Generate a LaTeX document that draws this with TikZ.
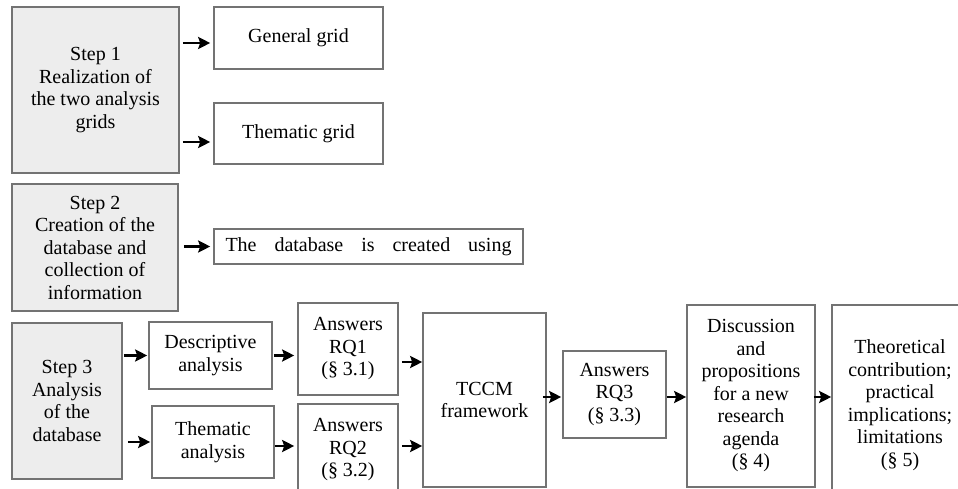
\documentclass[tikz,border=0pt]{standalone}
\usepackage{fontspec}
\setmainfont{Liberation Serif}
\usetikzlibrary{arrows.meta}

\begin{document}
\begin{tikzpicture}[x=1pt, y=-1pt,
	box/.style={draw=black!55, line width=1.6pt, fill=white, inner sep=0pt, align=center,
		font=\fontsize{20}{22.5}\selectfont},
	stepbox/.style={box, fill=black!7},
	arr/.style={line width=2.6pt, -{Stealth[length=12pt, width=12pt, inset=2pt]}}]
			\useasboundingbox (0, 0) rectangle (958, 489);
			\clip (0, 0) rectangle (958, 489);

			\node [stepbox, minimum width=167, minimum height=166] (step1) at (95.5, 90)
			{Step 1\\Realization of\\the two analysis\\grids};
			\node [box, minimum width=169, minimum height=62] (general) at (298.5, 38) {General grid};
			\node [box, minimum width=169, minimum height=61] (thematicgrid) at (298.5, 133.5) {Thematic grid};

			\draw [arr, shorten <=3pt, shorten >=3pt] ([yshift=-5pt]general.west -| step1.east) -- ([yshift=-5pt]general.west);
			\draw [arr, shorten <=3pt, shorten >=3pt] ([yshift=-8.5pt]thematicgrid.west -| step1.east) -- ([yshift=-8.5pt]thematicgrid.west);

			\node [stepbox, minimum width=166, minimum height=127] (step2) at (95, 247.5)
			{Step 2\\Creation of the\\database and\\collection of\\information};
			\node [box, minimum width=309, minimum height=35, text width=286, align=left] (database) at (368.5, 246.5)
			{The\hfill database\hfill is\hfill created\hfill using};

			\draw [arr, shorten <=5pt, shorten >=3pt] (database.west -| step2.east) -- (database.west);

			\node [stepbox, minimum width=110, minimum height=156] (step3) at (67, 401)
			{Step 3\\Analysis\\of the\\database};
			\node [box, minimum width=123, minimum height=67] (descriptive) at (210.5, 355.5)
			{Descriptive\\analysis};
			\node [box, minimum width=122, minimum height=72] (thematic) at (213, 442)
			{Thematic\\analysis};

			\draw [arr, shorten <=1pt, shorten >=1pt] (descriptive.west -| step3.east) -- (descriptive.west);
			\draw [arr, shorten <=5pt, shorten >=1pt] (thematic.west -| step3.east) -- (thematic.west);

			\node [box, minimum width=100, minimum height=92] (rq1) at (348, 349)
			{Answers\\RQ1\\(\S~3.1)};
			\node [box, minimum width=100, minimum height=92] (rq2) at (348, 450)
			{Answers\\RQ2\\(\S~3.2)};

			\draw [arr, shorten <=1pt, shorten >=3pt] (descriptive.east) -- (descriptive.east -| rq1.west);
			\draw [arr, shorten <=0pt, shorten >=3pt] ([yshift=4pt]rq2.west -| thematic.east) -- ([yshift=4pt]rq2.west);

			\node [box, minimum width=123, minimum height=174] (tccm) at (484.5, 400)
			{TCCM\\framework};

			\draw [arr, shorten <=3pt, shorten >=0pt] ([yshift=-13pt]rq1.east) -- ([yshift=-13pt]rq1.east -| tccm.west);
			\draw [arr, shorten <=3pt, shorten >=0pt] ([yshift=4pt]rq2.east) -- ([yshift=4pt]rq2.east -| tccm.west);

			\node [box, minimum width=103, minimum height=87] (rq3) at (614.5, 394.5)
			{Answers\\RQ3\\(\S~3.3)};
			\node [box, minimum width=128, minimum height=182] (discussion) at (751, 396)
			{Discussion\\and\\propositions\\for a new\\research\\agenda\\(\S~4)};
			\node [box, minimum width=136, minimum height=200] (theoretical) at (900, 405)
			{Theoretical\\contribution;\\practical\\implications;\\limitations\\(\S~5)};

			\draw [arr, shorten <=-4pt, shorten >=1pt] ([yshift=-2.5pt]rq3.west -| tccm.east) -- ([yshift=-2.5pt]rq3.west);
			\draw [arr, shorten >=0pt] ([yshift=-2.5pt]rq3.east) -- ([yshift=-2.5pt]rq3.east -| discussion.west);
			\draw [arr, shorten <=-2pt, shorten >=0pt] ([yshift=-1pt]discussion.east) -- ([yshift=-1pt]discussion.east -| theoretical.west);
		\end{tikzpicture}
\end{document}
